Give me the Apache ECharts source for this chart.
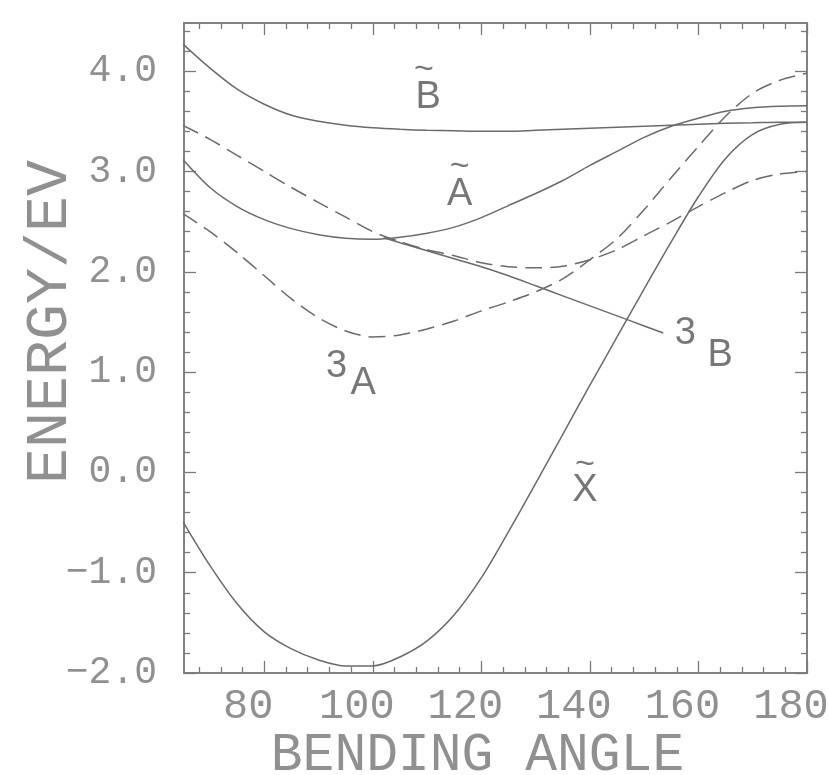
<!DOCTYPE html>
<html><head><meta charset="utf-8">
<script src="https://cdn.jsdelivr.net/npm/echarts@6/dist/echarts.min.js"></script>
<style>html,body{margin:0;padding:0;background:#fff}#c{width:828px;height:775px}</style>
</head><body><div id="c"></div>
<script>
// ---- data ----
const angles = [65,70,75,80,85,90,95,100,105,110,115,120,125,130,135,140,145,150,155,160,165,170,175,180];
const stateBtilde = [4.27,4.03,3.82,3.67,3.56,3.50,3.46,3.435,3.42,3.41,3.405,3.40,3.40,3.41,3.42,3.43,3.44,3.45,3.46,3.47,3.48,3.485,3.49,3.49];
const stateAtilde = [3.12,2.84,2.65,2.52,2.43,2.37,2.335,2.325,2.345,2.385,2.445,2.54,2.66,2.78,2.91,3.06,3.20,3.34,3.45,3.53,3.60,3.635,3.65,3.655];
const upperDashed = [3.46,3.32,3.16,3.00,2.84,2.69,2.545,2.40,2.30,2.22,2.16,2.09,2.05,2.04,2.055,2.12,2.22,2.36,2.50,2.65,2.79,2.91,2.975,3.00];
const triplet3A = [2.58,2.40,2.19,1.96,1.73,1.54,1.41,1.35,1.37,1.43,1.51,1.61,1.70,1.80,1.93,2.12,2.33,2.62,2.94,3.25,3.55,3.78,3.91,3.98];
const stateXtilde = [-0.49,-0.93,-1.31,-1.59,-1.76,-1.87,-1.93,-1.93,-1.84,-1.68,-1.42,-1.05,-0.59,-0.11,0.38,0.87,1.35,1.83,2.30,2.75,3.13,3.37,3.47,3.49];
const triplet3BAngles = [102,105,110,115,120,125,130,135,140,145,150,153.5];
const triplet3B = [2.34,2.29,2.21,2.13,2.05,1.96,1.86,1.76,1.66,1.56,1.46,1.39];

const xMajorTicks = [80,100,120,140,160,180];
const yMajorTicks = [-2,-1,0,1,2,3,4];
const xMinorTicks = [];
for (let v = 68; v < 180; v += 4) if (v % 20 !== 0) xMinorTicks.push(v);
const yMinorTicks = [];
for (let i = -9; i <= 22; i++) { if (i % 5 !== 0) yMinorTicks.push(Math.round(i * 20) / 100); }

// annotations: text and anchor in data units
const letterLabels = [
  {text:'B', x:110.2, y:3.74},
  {text:'A', x:116.0, y:2.77},
  {text:'3', x:93.3, y:1.06},
  {text:'A', x:98.2, y:0.89},
  {text:'3', x:157.6, y:1.38},
  {text:'B', x:164.0, y:1.17},
  {text:'X', x:139.1, y:-0.18}
];
const tildeLabels = [
  {text:'~', x:109.4, y:4.02},
  {text:'~', x:116.0, y:3.05},
  {text:'~', x:139.1, y:0.08}
];

// ---- chart ----
const X_MIN = 65.2, X_MAX = 180, Y_MIN = -2, Y_MAX = 4.48;
const GRAY = '#7a7a7a';
const TXT = '#909090';
const MONO = '"Liberation Mono", "DejaVu Sans Mono", monospace';

function xAxisDef(pos, ticks, len, opts) {
  return Object.assign({
    type:'value', position:pos, min:X_MIN, max:X_MAX,
    axisLine:{show:true, onZero:false, lineStyle:{color:GRAY, width:1.5}},
    axisTick:{show:true, inside:true, length:len, customValues:ticks, lineStyle:{color:GRAY, width:1.3}},
    axisLabel:{show:false}, splitLine:{show:false}
  }, opts || {});
}
function yAxisDef(pos, ticks, len, opts) {
  return Object.assign({
    type:'value', position:pos, min:Y_MIN, max:Y_MAX,
    axisLine:{show:true, onZero:false, lineStyle:{color:GRAY, width:1.5}},
    axisTick:{show:true, inside:true, length:len, customValues:ticks, lineStyle:{color:GRAY, width:1.3}},
    axisLabel:{show:false}, splitLine:{show:false}
  }, opts || {});
}

const xAxes = [
  xAxisDef('bottom', xMajorTicks, 12, {
    name:'BENDING ANGLE', nameLocation:'middle', nameGap:56, nameMoveOverlap:false,
    nameTextStyle:{fontFamily:MONO, fontSize:53, color:TXT, padding:[0,36,0,0]},
    axisLabel:{show:true, customValues:xMajorTicks, margin:13, fontFamily:MONO, fontSize:42, color:TXT, padding:[0,32,0,0]}
  }),
  xAxisDef('bottom', xMinorTicks, 6),
  xAxisDef('top', xMajorTicks, 12),
  xAxisDef('top', xMinorTicks, 6)
];
const yAxes = [
  yAxisDef('left', yMajorTicks, 12, {
    name:'ENERGY/EV', nameLocation:'middle', nameGap:104, nameMoveOverlap:false,
    nameTextStyle:{fontFamily:MONO, fontSize:60, color:TXT, padding:[0,0,0,52]},
    axisLabel:{show:true, customValues:yMajorTicks, margin:27, fontFamily:MONO, fontSize:38, color:TXT,
      formatter: v => v.toFixed(1).replace('-', '\u2212')}
  }),
  yAxisDef('left', yMinorTicks, 6),
  yAxisDef('right', yMajorTicks, 12),
  yAxisDef('right', yMinorTicks, 6)
];

function pairs(xs, ys) { return xs.map((x, i) => [x, ys[i]]); }
function curve(name, xs, ys, dashed) {
  return {
    type:'line', name, data:pairs(xs, ys), smooth:0.3, showSymbol:false, symbol:'none',
    lineStyle:{color:'#6a6a6a', width:1.5, type: dashed ? [17,8] : 'solid'},
    silent:true, clip:true, z:3
  };
}
function annot(list, size, color) {
  return {
    type:'scatter', silent:true, symbolSize:1, itemStyle:{color:'rgba(0,0,0,0)'},
    data:list.map(a => ({value:[a.x, a.y], name:a.text})),
    label:{show:true, position:'inside', formatter: p => p.name, fontFamily:'"Liberation Sans", Arial, sans-serif',
      fontSize:size, color, align:'center', verticalAlign:'middle'},
    z:5
  };
}

const chart = echarts.init(document.getElementById('c'), null, {renderer:'canvas'});
chart.setOption({
  animation:false,
  backgroundColor:'#fff',
  grid:{left:184, right:21, top:23, bottom:102, containLabel:false, outerBoundsMode:'none'},
  xAxis:xAxes,
  yAxis:yAxes,
  series:[
    curve('B~', angles, stateBtilde, false),
    curve('A~', angles, stateAtilde, false),
    curve('upper triplet', angles, upperDashed, true),
    curve('3A', angles, triplet3A, true),
    curve('X~', angles, stateXtilde, false),
    curve('3B', triplet3BAngles, triplet3B, false),
    annot(letterLabels, 38, '#555'),
    annot(tildeLabels, 34, '#555')
  ]
});
</script></body></html>
